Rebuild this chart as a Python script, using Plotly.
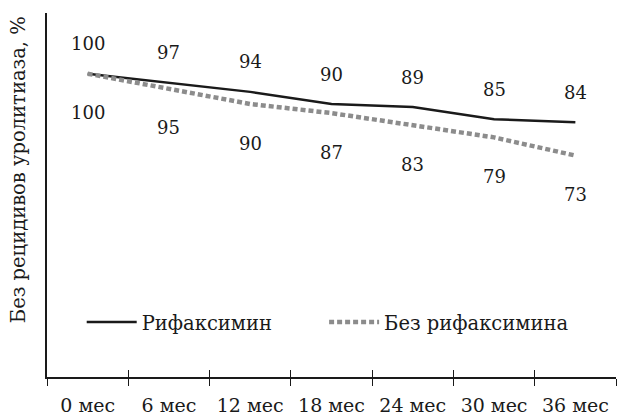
import plotly.graph_objects as go

categories = ["0 мес", "6 мес", "12 мес", "18 мес", "24 мес", "30 мес", "36 мес"]
rifaximin = [100, 97, 94, 90, 89, 85, 84]
no_rifaximin = [100, 95, 90, 87, 83, 79, 73]
series_names = ["Рифаксимин", "Без рифаксимина"]
y_title = "Без рецидивов уролитиаза, %"

FONT = "DejaVu Serif"
TXT = "#1a1a1a"

fig = go.Figure()
fig.add_trace(go.Scatter(
    x=categories, y=rifaximin, mode="lines", name=series_names[0],
    line=dict(color="#1a1a1a", width=2.5),
    xaxis="x", yaxis="y", legend="legend",
))
fig.add_trace(go.Scatter(
    x=categories, y=no_rifaximin, mode="lines", name=series_names[1],
    line=dict(color="#8c8c8c", width=4.5, dash="5px,3px"),
    xaxis="x2", yaxis="y", legend="legend2",
))

for c, v in zip(categories, rifaximin):
    fig.add_annotation(x=c, y=v, text=str(v), showarrow=False, yshift=30,
                       font=dict(family=FONT, size=18, color=TXT))
for c, v in zip(categories, no_rifaximin):
    fig.add_annotation(x=c, y=v, text=str(v), showarrow=False, yshift=-39,
                       font=dict(family=FONT, size=18, color=TXT))

fig.add_annotation(xref="paper", yref="paper", x=-0.051, y=0.571,
                   text=y_title, textangle=-90, showarrow=False,
                   xanchor="center", yanchor="middle",
                   font=dict(family=FONT, size=19.5, color=TXT))

legend_common = dict(orientation="h", y=0.15, xanchor="left", yanchor="middle",
                     font=dict(family=FONT, size=19.5, color=TXT),
                     itemwidth=50, bgcolor="rgba(0,0,0,0)")

fig.update_layout(
    width=624, height=419,
    margin=dict(l=47, r=8, t=13, b=42),
    paper_bgcolor="white", plot_bgcolor="white",
    font=dict(family=FONT, size=17, color=TXT),
    showlegend=True,
    legend=dict(x=0.061, **legend_common),
    legend2=dict(x=0.487, **legend_common),
    xaxis=dict(type="category", categoryorder="array", categoryarray=categories,
               tickson="boundaries", ticks="outside", ticklen=7, tickwidth=1.3,
               tickcolor="#1a1a1a", showline=True, linecolor="#1a1a1a", linewidth=1.5,
               showgrid=False, zeroline=False, range=[-0.5, 6.5], automargin=False,
               ticklabelstandoff=10,
               tickfont=dict(family=FONT, size=19, color=TXT)),
    xaxis2=dict(type="category", categoryorder="array", categoryarray=categories,
                overlaying="x", matches="x", tickson="boundaries", ticks="inside",
                ticklen=7, tickwidth=1.3, tickcolor="#1a1a1a", showticklabels=False,
                showline=False, showgrid=False, zeroline=False, side="bottom",
                automargin=False),
    yaxis=dict(range=[0, 120], showline=True, linecolor="#1a1a1a", linewidth=1.5,
               showticklabels=False, ticks="", showgrid=False, zeroline=False,
               automargin=False),
)

fig.write_html("out.html", config={"displayModeBar": False},
               post_script="document.body.style.margin='0';")
